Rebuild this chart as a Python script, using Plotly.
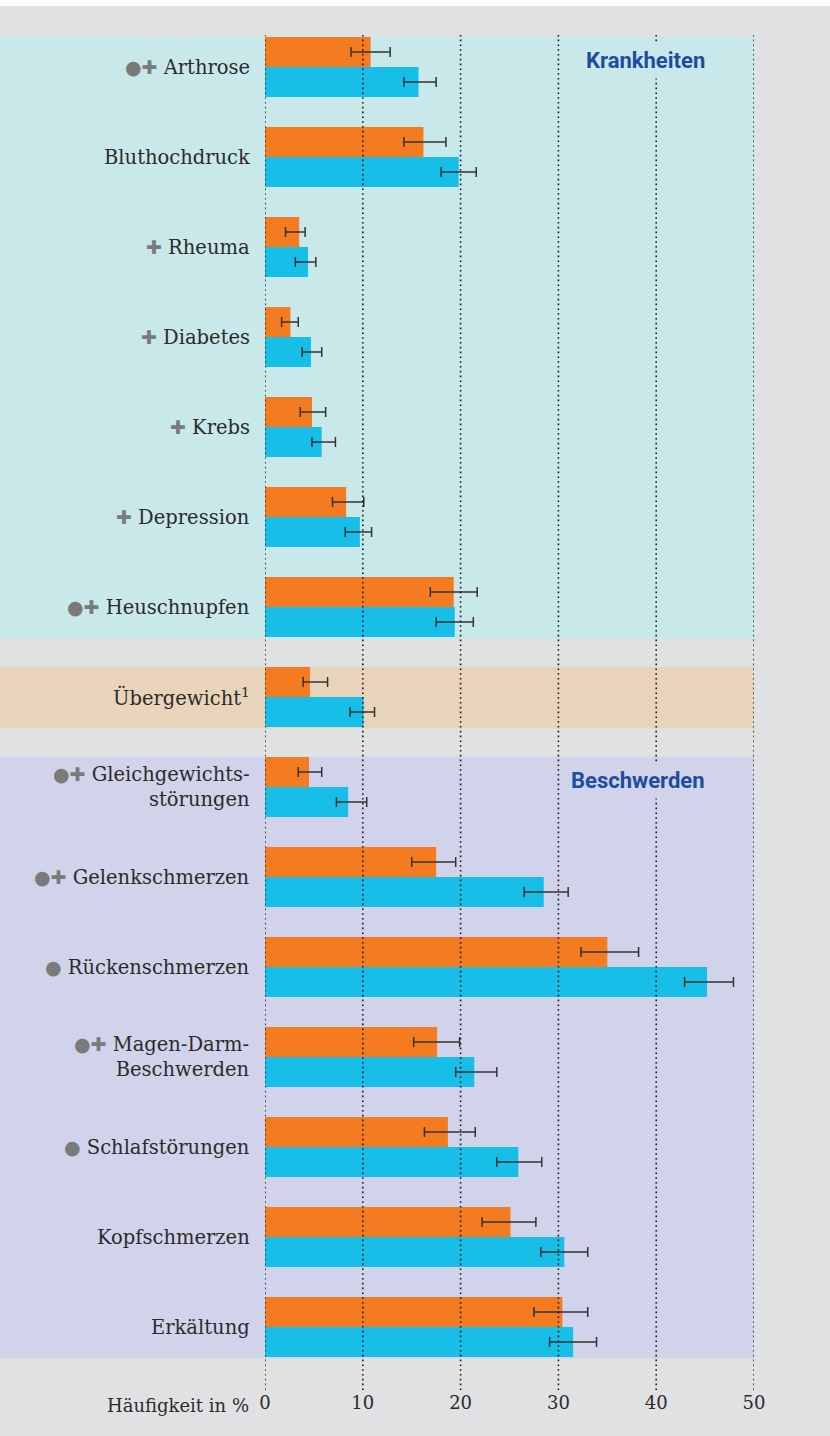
import plotly.graph_objects as go

# ---------------- data ----------------
categories = ["Arthrose", "Bluthochdruck", "Rheuma", "Diabetes", "Krebs", "Depression",
              "Heuschnupfen", "Übergewicht<sup>1</sup>", "Gleichgewichts-<br>störungen",
              "Gelenkschmerzen", "Rückenschmerzen", "Magen-Darm-<br>Beschwerden",
              "Schlafstörungen", "Kopfschmerzen", "Erkältung"]
markers = ["●✚", "", "✚", "✚", "✚", "✚", "●✚", "", "●✚", "●✚", "●", "●✚", "●", "", ""]

orange_val = [10.8, 16.2, 3.5, 2.6, 4.8, 8.3, 19.3, 4.6, 4.5, 17.5, 35.0, 17.6, 18.7, 25.1, 30.4]
orange_lo  = [8.8, 14.2, 2.1, 1.7, 3.6, 6.9, 16.9, 3.9, 3.4, 15.0, 32.3, 15.2, 16.3, 22.2, 27.5]
orange_hi  = [12.8, 18.5, 4.1, 3.4, 6.2, 10.1, 21.7, 6.4, 5.8, 19.5, 38.2, 19.9, 21.5, 27.7, 33.0]

cyan_val = [15.7, 19.8, 4.4, 4.7, 5.8, 9.7, 19.4, 10.1, 8.5, 28.5, 45.2, 21.4, 25.9, 30.6, 31.5]
cyan_lo  = [14.2, 18.0, 3.1, 3.8, 4.8, 8.2, 17.5, 8.7, 7.3, 26.5, 42.9, 19.5, 23.7, 28.2, 29.1]
cyan_hi  = [17.5, 21.6, 5.2, 5.8, 7.2, 10.9, 21.3, 11.2, 10.4, 31.0, 47.9, 23.7, 28.3, 33.0, 33.9]

x_ticks = [0, 10, 20, 30, 40, 50]
x_title = "Häufigkeit in %"

# sections: (title, first row, last row, colour)
sections = [("Krankheiten", 0, 6, "#C8E8EA"),
            ("", 7, 7, "#E8D4BA"),
            ("Beschwerden", 8, 14, "#D0D3E9")]

# ---------------- style ----------------
ORANGE = "#F47B20"
CYAN = "#17BFE8"
BG = "#E0E1E3"
TXT = "#2b2b2b"
MARK = "#7a7a7a"
BLUE = "#1C4DA1"
SERIF = "DejaVu Serif"

rows = list(range(len(categories)))

fig = go.Figure()
fig.add_trace(go.Bar(
    y=rows, x=orange_val, orientation="h", marker=dict(color=ORANGE, line=dict(width=0)),
    error_x=dict(type="data", symmetric=False,
                 array=[h - v for h, v in zip(orange_hi, orange_val)],
                 arrayminus=[v - l for v, l in zip(orange_val, orange_lo)],
                 color="#333333", thickness=1.5, width=5),
    hoverinfo="skip", showlegend=False))
fig.add_trace(go.Bar(
    y=rows, x=cyan_val, orientation="h", marker=dict(color=CYAN, line=dict(width=0)),
    error_x=dict(type="data", symmetric=False,
                 array=[h - v for h, v in zip(cyan_hi, cyan_val)],
                 arrayminus=[v - l for v, l in zip(cyan_val, cyan_lo)],
                 color="#333333", thickness=1.5, width=5),
    hoverinfo="skip", showlegend=False))

shapes = []
annotations = []

# white strip at very top
shapes.append(dict(type="rect", xref="paper", yref="paper", x0=-1, x1=2,
                   y0=1 + 29 / 1355, y1=1 + 40 / 1355, fillcolor="white",
                   line=dict(width=0), layer="below"))

# section bands
for title, first, last, col in sections:
    shapes.append(dict(type="rect", xref="paper", yref="y", x0=-265 / 489, x1=1,
                       y0=first - 0.335, y1=last + 0.35, fillcolor=col,
                       line=dict(width=0), layer="below"))
    if title:
        annotations.append(dict(x=45.1, y=first - 0.07, xref="x", yref="y",
                                text="<b>%s</b>" % title, showarrow=False,
                                xanchor="right", yanchor="middle", xshift=5,
                                font=dict(family="Roboto", size=22, color=BLUE),
                                bgcolor=col, borderpad=5))

# dotted grid lines drawn above bars
for v in x_ticks:
    shapes.append(dict(type="line", xref="x", yref="paper", x0=v, x1=v, y0=0, y1=1,
                       line=dict(color="#1a1a1a", width=1.6, dash="1.6px,3.2px"),
                       layer="above"))

# category labels
for i, (cat, mk) in enumerate(zip(categories, markers)):
    if mk:
        txt = ("<span style='color:%s;font-family:DejaVu Sans;font-size:19px'>%s</span> %s"
               % (MARK, mk, cat))
    else:
        txt = cat
    annotations.append(dict(x=0, y=i, xref="x", yref="y", text=txt, showarrow=False,
                            xanchor="right", yanchor="middle", align="right", xshift=-13,
                            font=dict(family=SERIF, size=19.5, color=TXT)))

annotations.append(dict(x=0, y=0, xref="x", yref="paper", text=x_title, showarrow=False,
                        xanchor="right", yanchor="middle", xshift=-14, yshift=-15,
                        font=dict(family=SERIF, size=18, color=TXT)))

fig.update_layout(
    width=830, height=1436,
    margin=dict(l=265, r=76, t=35, b=46, pad=0),
    paper_bgcolor=BG, plot_bgcolor="rgba(0,0,0,0)",
    barmode="group", bargap=1 / 3, bargroupgap=0,
    showlegend=False,
    shapes=shapes, annotations=annotations,
    xaxis=dict(range=[0, 50], tickvals=x_ticks, ticktext=[str(t) for t in x_ticks],
               showgrid=False, zeroline=False, showline=False, ticks="",
               tickfont=dict(family=SERIF, size=18, color=TXT), fixedrange=True),
    yaxis=dict(range=[14.7, -0.356], showticklabels=False, showgrid=False,
               zeroline=False, showline=False, ticks="", fixedrange=True),
)

fig.write_html("out.html", config={"displayModeBar": False},
               post_script="document.body.style.margin='0';document.body.style.padding='0';"
                           "document.body.style.overflow='hidden';"
                           "document.documentElement.style.overflow='hidden';")
